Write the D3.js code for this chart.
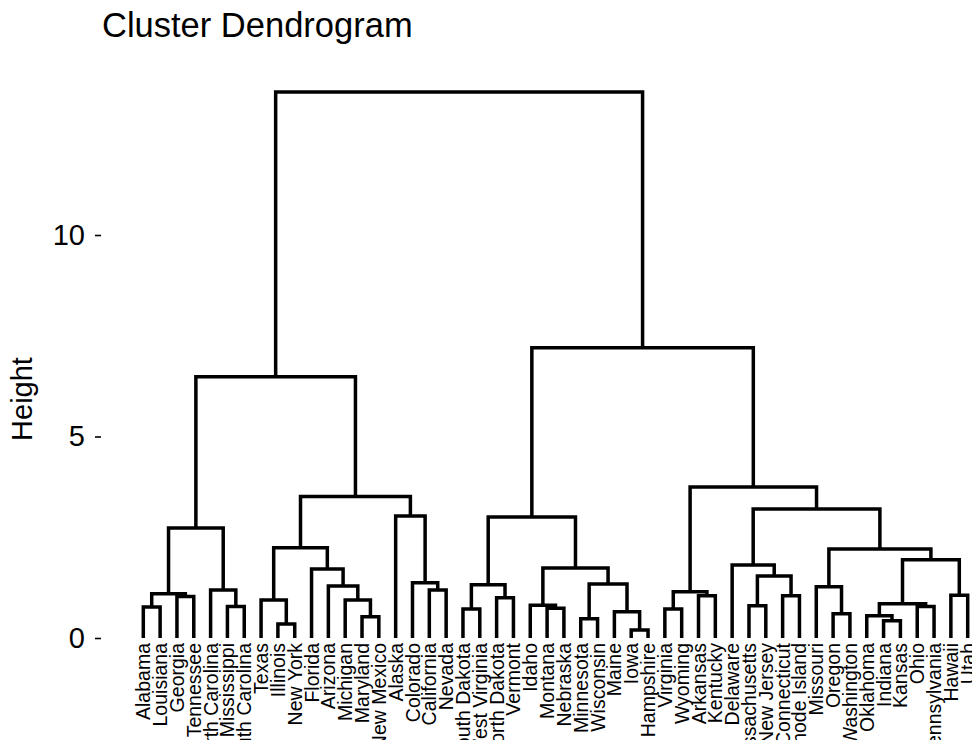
<!DOCTYPE html>
<html>
<head>
<meta charset="utf-8">
<script src="https://cdn.jsdelivr.net/npm/d3@7"></script>
<style>
  html, body { margin: 0; padding: 0; background: #fff; }
  svg { display: block; }
  text { font-family: "Liberation Sans", Arial, Helvetica, sans-serif; fill: #000; }
</style>
</head>
<body>
<svg id="chart" width="972" height="740"></svg>
<script>
// Leaf labels in dendrogram order
const leaves = ["Alabama","Louisiana","Georgia","Tennessee","North Carolina","Mississippi","South Carolina",
  "Texas","Illinois","New York","Florida","Arizona","Michigan","Maryland","New Mexico",
  "Alaska","Colorado","California","Nevada",
  "South Dakota","West Virginia","North Dakota","Vermont","Idaho","Montana","Nebraska",
  "Minnesota","Wisconsin","Maine","Iowa","New Hampshire",
  "Virginia","Wyoming","Arkansas","Kentucky","Delaware","Massachusetts","New Jersey",
  "Connecticut","Rhode Island","Missouri","Oregon","Washington","Oklahoma","Indiana",
  "Kansas","Ohio","Pennsylvania","Hawaii","Utah"];

// hclust-style merge table: negative = leaf (1-based), positive = earlier merge (1-based)
const merges = [
  [-1,-2],[-3,-4],[1,2],[-6,-7],[-5,4],[3,5],
  [-9,-10],[-8,7],[-14,-15],[-13,9],[-12,10],[-11,11],[8,12],
  [-18,-19],[-17,14],[-16,15],[13,16],[6,17],
  [-20,-21],[-22,-23],[19,20],[-25,-26],[-24,22],[-27,-28],[-30,-31],[-29,25],[24,26],[23,27],[21,28],
  [-32,-33],[-34,-35],[30,31],[-37,-38],[-39,-40],[33,34],[-36,35],
  [-42,-43],[-41,37],[-45,-46],[-44,39],[-47,-48],[40,41],[-49,-50],[42,43],[38,44],[36,45],[32,46],
  [29,47],[18,48]
];
const heights = [
  0.77,1.03,1.10,0.78,1.19,2.73,
  0.35,0.94,0.53,0.94,1.29,1.71,2.24,
  1.19,1.37,3.03,3.51,6.48,
  0.72,1.00,1.32,0.74,0.81,0.48,0.20,0.65,1.34,1.74,3.00,
  0.72,1.05,1.15,0.80,1.05,1.54,1.81,
  0.60,1.27,0.43,0.55,0.78,0.85,1.06,1.94,2.21,3.20,3.75,
  7.20,13.55
];
const yTicks = [0, 5, 10];
const titleText = "Cluster Dendrogram";
const yLabel = "Height";

const svg = d3.select("#chart");

const x = d3.scalePoint().domain(leaves).range([143.3, 967.7]);
const y = d3.scaleLinear().domain([0, 10]).range([638, 235]);

// build tree
const nodes = merges.map(() => ({}));
function ref(v) { return v < 0 ? { name: leaves[-v - 1], h: 0 } : nodes[v - 1]; }
merges.forEach((m, i) => {
  nodes[i].h = heights[i];
  nodes[i].children = [ref(m[0]), ref(m[1])];
});
const root = d3.hierarchy(nodes[nodes.length - 1]);
root.eachAfter(n => {
  if (!n.children) n.px = x(n.data.name);
  else n.px = (n.children[0].px + n.children[1].px) / 2;
  n.py = y(n.data.h);
});

// branches
svg.append("g")
  .selectAll("path")
  .data(root.descendants().filter(n => n.children))
  .join("path")
  .attr("d", n => {
    const [a, b] = n.children;
    return `M${a.px},${a.py}V${n.py}H${b.px}V${b.py}`;
  })
  .attr("fill", "none")
  .attr("stroke", "#000")
  .attr("stroke-width", 3.5)
  .attr("stroke-linejoin", "miter")
  .attr("stroke-linecap", "butt");

// leaf labels
svg.append("g")
  .selectAll("text")
  .data(leaves)
  .join("text")
  .attr("transform", d => `translate(${x(d)},643) rotate(-90)`)
  .attr("text-anchor", "end")
  .attr("dy", "0.36em")
  .style("font-size", "19.5px")
  .text(d => d);

// y axis
const yAxis = svg.append("g")
  .attr("transform", "translate(101,0)")
  .call(d3.axisLeft(y).tickValues(yTicks).tickSize(6).tickPadding(10).tickFormat(d3.format("d")));
yAxis.select(".domain").remove();
yAxis.selectAll("line").attr("stroke", "#000").attr("stroke-width", 1.6);
yAxis.selectAll("text").style("font-size", "29px").attr("fill", "#000");

// y label
svg.append("text")
  .attr("transform", "translate(32,399) rotate(-90)")
  .attr("text-anchor", "middle")
  .style("font-size", "29px")
  .text(yLabel);

// title
svg.append("text")
  .attr("x", 102)
  .attr("y", 37)
  .style("font-size", "34.5px")
  .text(titleText);
</script>
</body>
</html>
